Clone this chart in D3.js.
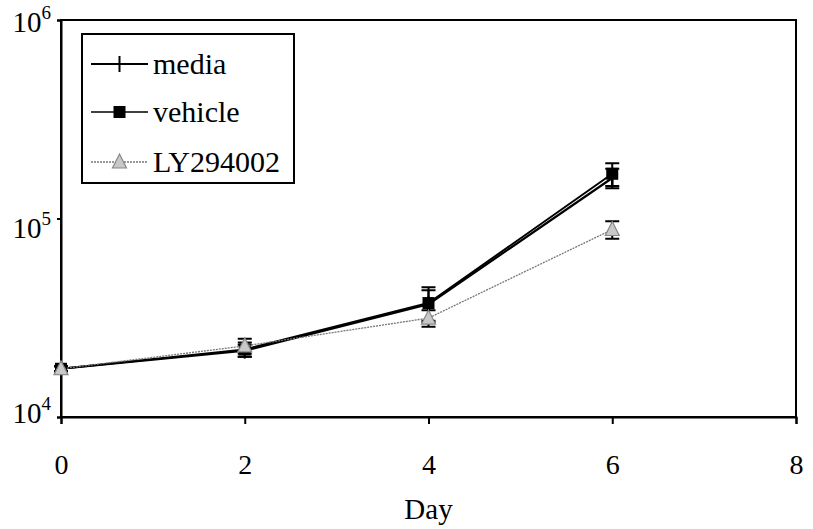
<!DOCTYPE html>
<html><head><meta charset="utf-8">
<script src="https://cdn.jsdelivr.net/npm/d3@7"></script>
<style>body{margin:0;background:#fff}svg{display:block}</style>
</head><body>
<svg id="chart" width="813" height="529"></svg>
<script>
const days = [0, 2, 4, 6];
const seriesNames = ["media", "vehicle", "LY294002"];
const media = [17500, 21600, 37000, 160000];
const vehicle = [17500, 21900, 37500, 168000];
const ly = [17500, 22800, 31500, 88000];
const mediaErr = [500, 1500, 6500, 18000];
const vehicleErr = [500, 1800, 7500, 22000];
const lyErr = [500, 2000, 3000, 9000];
const xTicks = [0, 2, 4, 6, 8];
const yTicks = [4, 5, 6];
const xLabel = "Day";

const svg = d3.select("#chart");
const font = "'Liberation Serif','Times New Roman',serif";
const x = d3.scaleLinear().domain([0, 8]).range([61, 796]);
const y = d3.scaleLog().domain([1e4, 1e6]).range([417, 20]);

// frame
svg.append("rect").attr("x", x(0)).attr("y", y(1e6))
  .attr("width", x(8) - x(0)).attr("height", y(1e4) - y(1e6))
  .attr("fill", "none").attr("stroke", "#000").attr("stroke-width", 2);

// x axis
const xAxis = svg.append("g").attr("transform", `translate(0,${y(1e4)})`)
  .call(d3.axisBottom(x).tickValues(xTicks).tickSize(7).tickPadding(30).tickFormat(d3.format("d")));
xAxis.select(".domain").attr("stroke-width", 2);
xAxis.selectAll(".tick line").attr("stroke-width", 2);
xAxis.selectAll("text").attr("font-family", font).attr("font-size", 28).attr("fill", "#000");

// y axis
const yAxis = svg.append("g").attr("transform", `translate(${x(0)},0)`)
  .call(d3.axisLeft(y).tickValues(yTicks.map(e => Math.pow(10, e))).tickSize(4).tickFormat(""));
yAxis.select(".domain").attr("stroke-width", 2);
yAxis.selectAll(".tick line").attr("stroke-width", 2);
const labelDy = {4: 6, 5: 19, 6: 12};
yTicks.forEach(e => {
  const t = svg.append("text").attr("x", 51).attr("y", y(Math.pow(10, e)) + labelDy[e])
    .attr("text-anchor", "end").attr("font-family", font).attr("font-size", 29).attr("fill", "#000");
  t.append("tspan").text("10");
  t.append("tspan").attr("dy", -13).attr("font-size", 19).text(String(e));
});

svg.append("text").attr("x", (x(0) + x(8)) / 2).attr("y", 519).attr("text-anchor", "middle")
  .attr("font-family", font).attr("font-size", 29).attr("fill", "#000").text(xLabel);

const line = d3.line().x(d => x(d[0])).y(d => y(d[1]));
const sets = [
  {vals: vehicle, err: vehicleErr, stroke: "#000", width: 2, dash: null, marker: "sq"},
  {vals: media, err: mediaErr, stroke: "#000", width: 2.2, dash: null, marker: "plus"},
  {vals: ly, err: lyErr, stroke: "#777", width: 1.3, dash: "2,1", marker: "tri"}
];

function drawMarker(g, type, cx, cy) {
  if (type === "sq") {
    g.append("rect").attr("x", cx - 6).attr("y", cy - 6).attr("width", 12).attr("height", 12).attr("fill", "#000");
  } else if (type === "tri") {
    g.append("path").attr("d", `M${cx},${cy - 8}L${cx + 7},${cy + 6}L${cx - 7},${cy + 6}Z`)
      .attr("fill", "#c8c8c8").attr("stroke", "#888").attr("stroke-width", 1.2);
  } else {
    g.append("path").attr("d", `M${cx},${cy - 8}V${cy + 8}`).attr("stroke", "#000").attr("stroke-width", 2);
  }
}

sets.forEach(s => {
  const pts = days.map((d, i) => [d, s.vals[i]]);
  const p = svg.append("path").attr("d", line(pts)).attr("fill", "none")
    .attr("stroke", s.stroke).attr("stroke-width", s.width);
  if (s.dash) p.attr("stroke-dasharray", s.dash);
  const g = svg.append("g");
  days.forEach((d, i) => {
    const cx = x(d), y1 = y(s.vals[i] + s.err[i]), y2 = y(s.vals[i] - s.err[i]);
    g.append("path").attr("d", `M${cx},${y1}V${y2}M${cx - 7},${y1}H${cx + 7}M${cx - 7},${y2}H${cx + 7}`)
      .attr("stroke", "#000").attr("stroke-width", 2).attr("fill", "none");
    drawMarker(g, s.marker, cx, y(s.vals[i]));
  });
});

// legend
svg.append("rect").attr("x", 82).attr("y", 34).attr("width", 212).attr("height", 149)
  .attr("fill", "#fff").attr("stroke", "#000").attr("stroke-width", 2);
const leg = [
  {name: seriesNames[0], stroke: "#000", width: 2.2, dash: null, marker: "plus", y: 64},
  {name: seriesNames[1], stroke: "#000", width: 1.5, dash: null, marker: "sq", y: 112},
  {name: seriesNames[2], stroke: "#777", width: 1.3, dash: "2,1", marker: "tri", y: 162}
];
leg.forEach(l => {
  const g = svg.append("g");
  const ln = g.append("line").attr("x1", 91).attr("x2", 148).attr("y1", l.y).attr("y2", l.y)
    .attr("stroke", l.stroke).attr("stroke-width", l.width);
  if (l.dash) ln.attr("stroke-dasharray", l.dash);
  drawMarker(g, l.marker, 119.5, l.y);
  g.append("text").attr("x", 153).attr("y", l.y + 10).attr("font-family", font)
    .attr("font-size", 30).attr("fill", "#000").text(l.name);
});
</script>
</body></html>
